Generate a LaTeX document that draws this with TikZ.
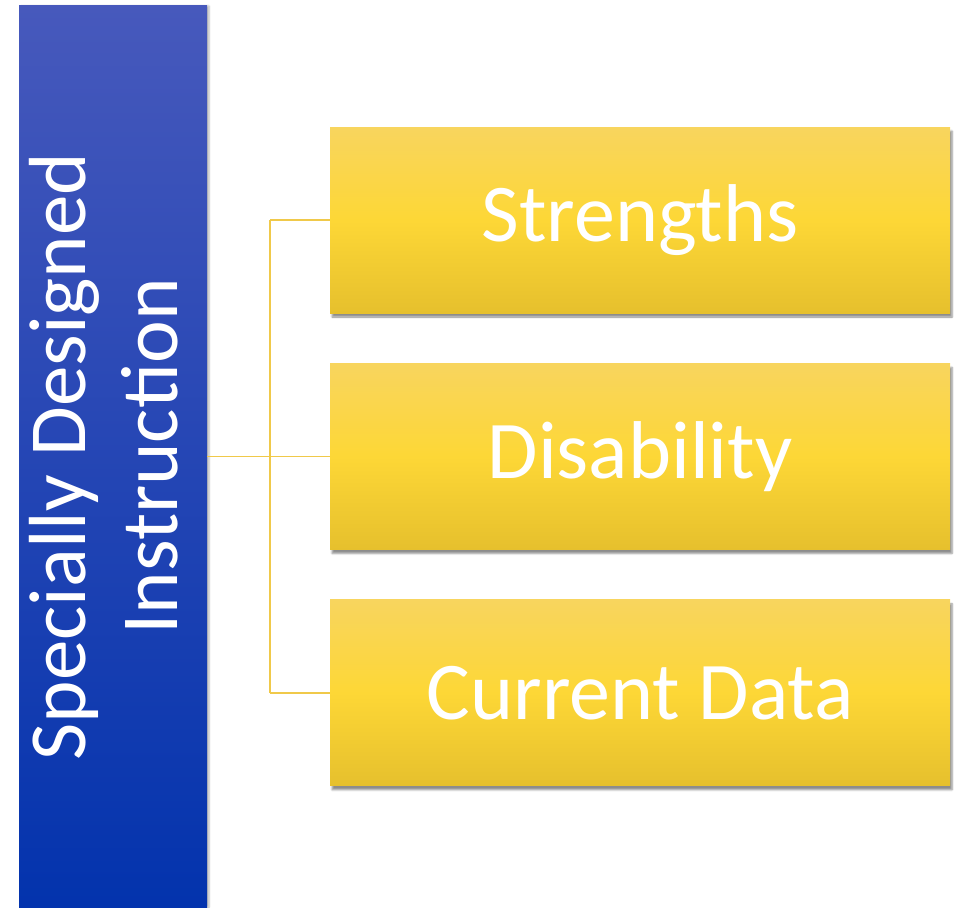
\documentclass[tikz,border=0pt]{standalone}
\usepackage{fontspec}
\setmainfont{Carlito}
\usetikzlibrary{positioning, shadows.blur, calc}

\definecolor{barTop}{HTML}{4759BC}
\definecolor{barBot}{HTML}{0333AD}
\definecolor{boxTop}{HTML}{F8D55E}
\definecolor{boxMid}{HTML}{FDD736}
\definecolor{boxBot}{HTML}{E6C02D}
\definecolor{linkGold}{HTML}{F0C94A}

\begin{document}
\begin{tikzpicture}[x=1pt, y=-1pt, node distance=50pt and 60pt,
    bar/.style={rectangle, top color=barTop, bottom color=barBot, inner sep=0pt,
      minimum width=188pt, minimum height=901pt, text=white, align=center,
      font=\fontsize{81}{92}\selectfont,
      blur shadow={shadow xshift=2pt, shadow yshift=0pt, shadow blur steps=4, shadow opacity=30}},
    item/.style={rectangle, top color=boxTop, bottom color=boxBot, middle color=boxMid,
      inner sep=0pt, minimum width=620pt, minimum height=186pt, text=white,
      font=\fontsize{82}{96}\selectfont,
      blur shadow={shadow xshift=2pt, shadow yshift=-4pt, shadow blur steps=5, shadow opacity=45}},
    link/.style={draw=linkGold, line width=1.6pt}]

    \useasboundingbox (0,0) rectangle (955,907);

    \node (sdi) [bar] at (113,456.5) {\rotatebox{90}{\begin{tabular}{c}Specially Designed\\Instruction\end{tabular}}};

    % the three yellow boxes
    \node (strengths) [item] at (640,220) {Strengths};
    \node (disability) [item, below=of strengths] {Disability};
    \node (data) [item, below=of disability] {Current Data};

    % bracket from the bar to the boxes
    \coordinate (fork) at (270,456.5);
    \draw[link] (sdi.east |- fork) -- (fork);
    \draw[link] (fork |- strengths.west) -- (fork |- data.west);
    \draw[link] (fork |- strengths.west) -- (strengths.west);
    \draw[link] (fork |- disability.west) -- (disability.west);
    \draw[link] (fork |- data.west) -- (data.west);

\end{tikzpicture}
\end{document}
